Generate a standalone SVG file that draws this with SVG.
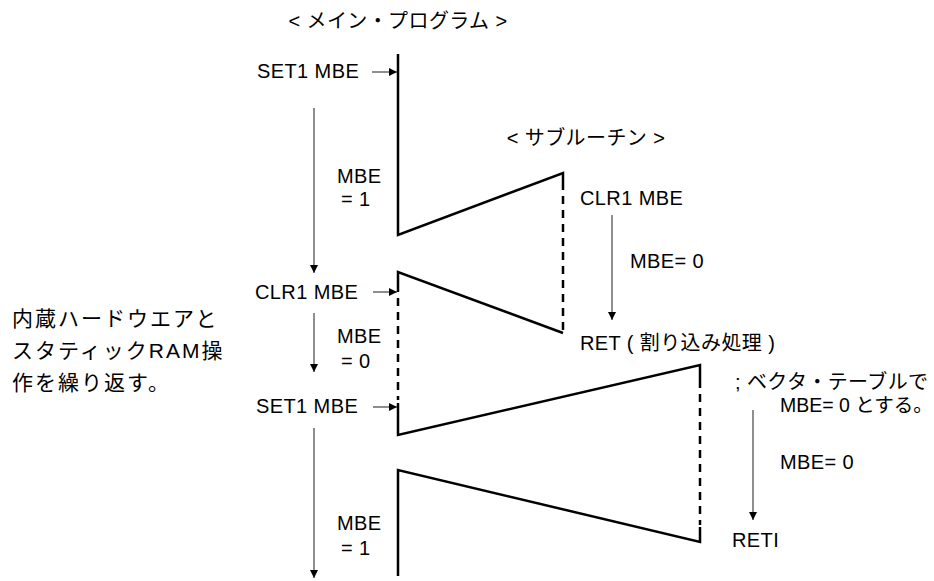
<svg xmlns="http://www.w3.org/2000/svg" width="934" height="581" viewBox="0 0 934 581">
<style>
text{font-family:"Liberation Sans","Noto Sans CJK JP",sans-serif;font-size:20px;fill:#000;letter-spacing:0.4px}
.jp{font-size:21px;letter-spacing:2px}
.tight{font-size:19.5px;letter-spacing:0}
.shape{fill:none;stroke:#000;stroke-width:2.5}
.dash{fill:none;stroke:#000;stroke-width:2.5;stroke-dasharray:8,6}
.arr{fill:none;stroke:#444;stroke-width:1.2;marker-end:url(#ah)}
</style>
<defs>
<marker id="ah" markerWidth="8" markerHeight="14" refX="8" refY="7" orient="auto" markerUnits="userSpaceOnUse">
<path d="M0,3 L8,7 L0,11 Z" fill="#000"/>
</marker>
</defs>
<rect width="934" height="581" fill="#fff"/>
<g id="main-title"><text x="398" y="28" text-anchor="middle">&lt; メイン・プログラム &gt;</text></g>
<g id="sub-title"><text x="586" y="145" text-anchor="middle">&lt; サブルーチン &gt;</text></g>
<g id="main-shape">
<path class="shape" d="M398,54 L398,235 L563,173 L563,190"/>
<path class="dash" d="M563,196 L563,333"/>
<path class="shape" d="M563,333 L398,272 L398,292"/>
<path class="dash" d="M398,298 L398,400"/>
<path class="shape" d="M398,403 L398,435 L700,365 L700,388"/>
<path class="dash" d="M700,394 L700,525"/>
<path class="shape" d="M700,527 L700,542 L398,470 L398,576"/>
</g>
<g id="labels-left">
<text x="257" y="78">SET1 MBE</text>
<text x="337" y="183">MBE</text>
<text x="341" y="206">= 1</text>
<text x="255" y="299">CLR1 MBE</text>
<text x="337" y="343">MBE</text>
<text x="341" y="368">= 0</text>
<text x="256" y="413">SET1 MBE</text>
<text x="337" y="530">MBE</text>
<text x="341" y="555">= 1</text>
</g>
<g id="labels-right">
<text x="580" y="205">CLR1 MBE</text>
<text x="630" y="268">MBE= 0</text>
<text x="580" y="350">RET ( 割り込み処理 )</text>
<text x="735" y="389">; ベクタ・テーブルで</text>
<text class="tight" x="780" y="412">MBE= 0 とする。</text>
<text x="780" y="469">MBE= 0</text>
<text x="732" y="547">RETI</text>
</g>
<g id="note">
<text class="jp" x="12" y="326">内蔵ハードウエアと</text>
<text class="jp" x="12" y="358">スタティックRAM操</text>
<text class="jp" x="12" y="390">作を繰り返す。</text>
</g>
<g id="connectors">
<path class="arr" d="M372,72 L397,72"/>
<path class="arr" d="M373,292 L397,292"/>
<path class="arr" d="M373,407 L397,407"/>
<path class="arr" d="M314,108 L314,273"/>
<path class="arr" d="M314,313 L314,372"/>
<path class="arr" d="M314,428 L314,578"/>
<path class="arr" d="M612,215 L612,320"/>
<path class="arr" d="M753,410 L753,520"/>
</g>
</svg>
